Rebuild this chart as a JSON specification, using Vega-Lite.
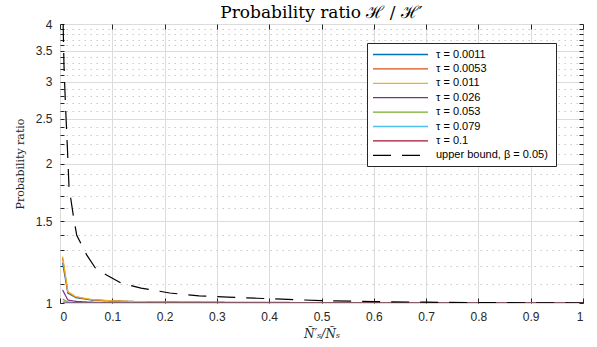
{
  "$schema": "https://vega.github.io/schema/vega-lite/v6.json",
  "width": 523,
  "height": 279,
  "autosize": {"type": "none"},
  "padding": {"left": 60, "top": 24, "right": 14, "bottom": 44},
  "background": "white",
  "config": {
    "view": {"stroke": "#262626", "strokeWidth": 1},
    "axis": {
      "labelFont": "Liberation Sans",
      "labelFontSize": 12,
      "labelColor": "#262626",
      "tickColor": "#262626",
      "domainColor": "#262626",
      "titleColor": "#262626"
    }
  },
  "title": {
    "text": "Probability ratio ℋ / ℋ′",
    "font": "DejaVu Serif",
    "fontSize": 17,
    "fontWeight": "normal",
    "color": "#000000",
    "anchor": "middle",
    "frame": "group",
    "offset": 4,
    "dy": 8
  },
  "data": {
    "values": [
      {"s": "τ = 0.0011", "x": 0.005, "y": 1.22},
      {"s": "τ = 0.0011", "x": 0.015, "y": 1.05},
      {"s": "τ = 0.0011", "x": 0.03, "y": 1.027},
      {"s": "τ = 0.0011", "x": 0.06, "y": 1.015},
      {"s": "τ = 0.0011", "x": 0.1, "y": 1.01},
      {"s": "τ = 0.0011", "x": 0.15, "y": 1.007},
      {"s": "τ = 0.0011", "x": 0.2, "y": 1.0055},
      {"s": "τ = 0.0011", "x": 0.3, "y": 1.004},
      {"s": "τ = 0.0011", "x": 0.4, "y": 1.003},
      {"s": "τ = 0.0011", "x": 0.5, "y": 1.002},
      {"s": "τ = 0.0011", "x": 0.6, "y": 1.0015},
      {"s": "τ = 0.0011", "x": 0.7, "y": 1.001},
      {"s": "τ = 0.0011", "x": 0.8, "y": 1.0008},
      {"s": "τ = 0.0011", "x": 0.9, "y": 1.0005},
      {"s": "τ = 0.0011", "x": 1.0, "y": 1.0003},
      {"s": "τ = 0.0053", "x": 0.005, "y": 1.25},
      {"s": "τ = 0.0053", "x": 0.015, "y": 1.055},
      {"s": "τ = 0.0053", "x": 0.03, "y": 1.03},
      {"s": "τ = 0.0053", "x": 0.06, "y": 1.016},
      {"s": "τ = 0.0053", "x": 0.1, "y": 1.01},
      {"s": "τ = 0.0053", "x": 0.15, "y": 1.006},
      {"s": "τ = 0.0053", "x": 0.2, "y": 1.004},
      {"s": "τ = 0.0053", "x": 0.3, "y": 1.002},
      {"s": "τ = 0.0053", "x": 0.4, "y": 1.0012},
      {"s": "τ = 0.0053", "x": 0.5, "y": 1.0008},
      {"s": "τ = 0.0053", "x": 0.6, "y": 1.0005},
      {"s": "τ = 0.0053", "x": 0.7, "y": 1.0003},
      {"s": "τ = 0.0053", "x": 0.8, "y": 1.0002},
      {"s": "τ = 0.0053", "x": 0.9, "y": 1.0001},
      {"s": "τ = 0.0053", "x": 1.0, "y": 1.0},
      {"s": "τ = 0.011", "x": 0.005, "y": 1.26},
      {"s": "τ = 0.011", "x": 0.015, "y": 1.058},
      {"s": "τ = 0.011", "x": 0.03, "y": 1.032},
      {"s": "τ = 0.011", "x": 0.06, "y": 1.018},
      {"s": "τ = 0.011", "x": 0.1, "y": 1.011},
      {"s": "τ = 0.011", "x": 0.15, "y": 1.007},
      {"s": "τ = 0.011", "x": 0.2, "y": 1.005},
      {"s": "τ = 0.011", "x": 0.3, "y": 1.003},
      {"s": "τ = 0.011", "x": 0.4, "y": 1.0015},
      {"s": "τ = 0.011", "x": 0.5, "y": 1.001},
      {"s": "τ = 0.011", "x": 0.6, "y": 1.0006},
      {"s": "τ = 0.011", "x": 0.7, "y": 1.0004},
      {"s": "τ = 0.011", "x": 0.8, "y": 1.0002},
      {"s": "τ = 0.011", "x": 0.9, "y": 1.0001},
      {"s": "τ = 0.011", "x": 1.0, "y": 1.0},
      {"s": "τ = 0.026", "x": 0.005, "y": 1.067},
      {"s": "τ = 0.026", "x": 0.015, "y": 1.015},
      {"s": "τ = 0.026", "x": 0.03, "y": 1.008},
      {"s": "τ = 0.026", "x": 0.06, "y": 1.004},
      {"s": "τ = 0.026", "x": 0.1, "y": 1.002},
      {"s": "τ = 0.026", "x": 0.15, "y": 1.001},
      {"s": "τ = 0.026", "x": 0.2, "y": 1.0006},
      {"s": "τ = 0.026", "x": 0.3, "y": 1.0003},
      {"s": "τ = 0.026", "x": 0.4, "y": 1.0002},
      {"s": "τ = 0.026", "x": 0.5, "y": 1.0001},
      {"s": "τ = 0.026", "x": 0.6, "y": 1.0},
      {"s": "τ = 0.026", "x": 0.7, "y": 1.0},
      {"s": "τ = 0.026", "x": 0.8, "y": 1.0},
      {"s": "τ = 0.026", "x": 0.9, "y": 1.0},
      {"s": "τ = 0.026", "x": 1.0, "y": 1.0},
      {"s": "τ = 0.053", "x": 0.005, "y": 1.02},
      {"s": "τ = 0.053", "x": 0.015, "y": 1.005},
      {"s": "τ = 0.053", "x": 0.03, "y": 1.002},
      {"s": "τ = 0.053", "x": 0.06, "y": 1.001},
      {"s": "τ = 0.053", "x": 0.1, "y": 1.0005},
      {"s": "τ = 0.053", "x": 0.15, "y": 1.0003},
      {"s": "τ = 0.053", "x": 0.2, "y": 1.0002},
      {"s": "τ = 0.053", "x": 0.3, "y": 1.0001},
      {"s": "τ = 0.053", "x": 0.4, "y": 1.0},
      {"s": "τ = 0.053", "x": 0.5, "y": 1.0},
      {"s": "τ = 0.053", "x": 0.6, "y": 1.0},
      {"s": "τ = 0.053", "x": 0.7, "y": 1.0},
      {"s": "τ = 0.053", "x": 0.8, "y": 1.0},
      {"s": "τ = 0.053", "x": 0.9, "y": 1.0},
      {"s": "τ = 0.053", "x": 1.0, "y": 1.0},
      {"s": "τ = 0.079", "x": 0.005, "y": 1.01},
      {"s": "τ = 0.079", "x": 0.015, "y": 1.002},
      {"s": "τ = 0.079", "x": 0.03, "y": 1.001},
      {"s": "τ = 0.079", "x": 0.06, "y": 1.0005},
      {"s": "τ = 0.079", "x": 0.1, "y": 1.0002},
      {"s": "τ = 0.079", "x": 0.15, "y": 1.0001},
      {"s": "τ = 0.079", "x": 0.2, "y": 1.0},
      {"s": "τ = 0.079", "x": 0.3, "y": 1.0},
      {"s": "τ = 0.079", "x": 0.4, "y": 1.0},
      {"s": "τ = 0.079", "x": 0.5, "y": 1.0},
      {"s": "τ = 0.079", "x": 0.6, "y": 1.0},
      {"s": "τ = 0.079", "x": 0.7, "y": 1.0},
      {"s": "τ = 0.079", "x": 0.8, "y": 1.0},
      {"s": "τ = 0.079", "x": 0.9, "y": 1.0},
      {"s": "τ = 0.079", "x": 1.0, "y": 1.0},
      {"s": "τ = 0.1", "x": 0.005, "y": 1.0},
      {"s": "τ = 0.1", "x": 0.1, "y": 1.0},
      {"s": "τ = 0.1", "x": 0.2, "y": 1.0},
      {"s": "τ = 0.1", "x": 0.3, "y": 1.0},
      {"s": "τ = 0.1", "x": 0.4, "y": 1.0},
      {"s": "τ = 0.1", "x": 0.5, "y": 1.0},
      {"s": "τ = 0.1", "x": 0.6, "y": 1.0},
      {"s": "τ = 0.1", "x": 0.7, "y": 1.0},
      {"s": "τ = 0.1", "x": 0.8, "y": 1.0},
      {"s": "τ = 0.1", "x": 0.9, "y": 1.0},
      {"s": "τ = 0.1", "x": 1.0, "y": 1.0},
      {"s": "upper bound,  β = 0.05)", "x": 0.006, "y": 4.0},
      {"s": "upper bound,  β = 0.05)", "x": 0.0076, "y": 3.26},
      {"s": "upper bound,  β = 0.05)", "x": 0.0105, "y": 2.67},
      {"s": "upper bound,  β = 0.05)", "x": 0.0143, "y": 2.14},
      {"s": "upper bound,  β = 0.05)", "x": 0.0172, "y": 1.78},
      {"s": "upper bound,  β = 0.05)", "x": 0.026, "y": 1.53},
      {"s": "upper bound,  β = 0.05)", "x": 0.032, "y": 1.40},
      {"s": "upper bound,  β = 0.05)", "x": 0.051, "y": 1.27},
      {"s": "upper bound,  β = 0.05)", "x": 0.068, "y": 1.188},
      {"s": "upper bound,  β = 0.05)", "x": 0.089, "y": 1.149},
      {"s": "upper bound,  β = 0.05)", "x": 0.118, "y": 1.102},
      {"s": "upper bound,  β = 0.05)", "x": 0.155, "y": 1.077},
      {"s": "upper bound,  β = 0.05)", "x": 0.21, "y": 1.051},
      {"s": "upper bound,  β = 0.05)", "x": 0.266, "y": 1.036},
      {"s": "upper bound,  β = 0.05)", "x": 0.321, "y": 1.030},
      {"s": "upper bound,  β = 0.05)", "x": 0.377, "y": 1.024},
      {"s": "upper bound,  β = 0.05)", "x": 0.436, "y": 1.018},
      {"s": "upper bound,  β = 0.05)", "x": 0.5, "y": 1.012},
      {"s": "upper bound,  β = 0.05)", "x": 0.6, "y": 1.007},
      {"s": "upper bound,  β = 0.05)", "x": 0.7, "y": 1.004},
      {"s": "upper bound,  β = 0.05)", "x": 0.8, "y": 1.002},
      {"s": "upper bound,  β = 0.05)", "x": 0.9, "y": 1.001},
      {"s": "upper bound,  β = 0.05)", "x": 1.0, "y": 1.0}
    ]
  },
  "layer": [
    {
      "mark": {"type": "line", "strokeWidth": 1.2, "clip": true},
      "encoding": {
        "x": {
          "field": "x",
          "type": "quantitative",
          "scale": {"domain": [0, 1], "nice": false, "zero": false},
          "axis": {
            "values": [0, 0.1, 0.2, 0.3, 0.4, 0.5, 0.6, 0.7, 0.8, 0.9, 1],
            "format": "~g",
            "title": "Ñ′ₛ/Ñₛ",
            "titleFont": "DejaVu Serif",
            "titleFontStyle": "italic",
            "titleFontWeight": "normal",
            "titleFontSize": 12,
            "titlePadding": 6,
            "domain": false,
            "tickSize": -5,
            "labelPadding": 13,
            "grid": true,
            "gridColor": "#dcdcdc",
            "gridWidth": 1
          }
        },
        "y": {
          "field": "y",
          "type": "quantitative",
          "scale": {"type": "log", "domain": [1, 4], "nice": false},
          "axis": {
            "values": [1, 1.1, 1.2, 1.3, 1.4, 1.5, 1.6, 1.7, 1.8, 1.9, 2, 2.1, 2.2, 2.3, 2.4, 2.5, 2.6, 2.7, 2.8, 2.9, 3, 3.1, 3.2, 3.3, 3.4, 3.5, 3.6, 3.7, 3.8, 3.9, 4],
            "labelExpr": "indexof([1, 1.5, 2, 2.5, 3, 3.5, 4], datum.value) >= 0 ? datum.label : ''",
            "format": "~g",
            "title": "Probability ratio",
            "titleFont": "DejaVu Serif",
            "titleFontWeight": "normal",
            "titleFontSize": 11,
            "titlePadding": 10,
            "domain": false,
            "tickSize": -4,
            "labelPadding": 12,
            "labelBound": false,
            "labelOverlap": false,
            "grid": true,
            "gridColor": {"condition": {"test": "indexof([1, 1.5, 2, 2.5, 3, 3.5, 4], datum.value) >= 0", "value": "#dcdcdc"}, "value": "#c8c8c8"},
            "gridDash": {"condition": {"test": "indexof([1, 1.5, 2, 2.5, 3, 3.5, 4], datum.value) >= 0", "value": []}, "value": [1.5, 4.5]}
          }
        },
        "color": {
          "field": "s",
          "type": "nominal",
          "scale": {
            "domain": ["τ = 0.0011", "τ = 0.0053", "τ = 0.011", "τ = 0.026", "τ = 0.053", "τ = 0.079", "τ = 0.1", "upper bound,  β = 0.05)"],
            "range": ["#0072BD", "#D95319", "#EDB120", "#7E2F8E", "#77AC30", "#4DBEEE", "#A2142F", "#000000"]
          },
          "legend": {
            "title": null,
            "orient": "none",
            "legendX": 307,
            "legendY": 19,
            "symbolType": "M-5,0H5",
            "symbolSize": 121,
            "symbolOffset": 22,
            "symbolStrokeWidth": 1.3,
            "labelFont": "Liberation Sans",
            "labelFontSize": 11,
            "labelColor": "#000000",
            "labelOffset": 29,
            "padding": 5,
            "rowPadding": 2.4,
            "strokeColor": "#262626",
            "fillColor": "white",
            "cornerRadius": 0
          }
        },
        "strokeDash": {
          "field": "s",
          "type": "nominal",
          "scale": {
            "domain": ["τ = 0.0011", "τ = 0.0053", "τ = 0.011", "τ = 0.026", "τ = 0.053", "τ = 0.079", "τ = 0.1", "upper bound,  β = 0.05)"],
            "range": [[1, 0], [1, 0], [1, 0], [1, 0], [1, 0], [1, 0], [1, 0], [18, 11]]
          },
          "legend": {
            "title": null,
            "orient": "none",
            "legendX": 307,
            "legendY": 19
          }
        }
      }
    },
    {
      "mark": {"type": "point", "opacity": 0},
      "encoding": {
        "x": {
          "field": "x",
          "type": "quantitative",
          "axis": {
            "orient": "top",
            "values": [0, 0.1, 0.2, 0.3, 0.4, 0.5, 0.6, 0.7, 0.8, 0.9, 1],
            "labels": false,
            "title": null,
            "domain": false,
            "tickSize": -5,
            "grid": false
          }
        },
        "y": {
          "field": "y",
          "type": "quantitative",
          "axis": {
            "orient": "right",
            "values": [1, 1.1, 1.2, 1.3, 1.4, 1.5, 1.6, 1.7, 1.8, 1.9, 2, 2.1, 2.2, 2.3, 2.4, 2.5, 2.6, 2.7, 2.8, 2.9, 3, 3.1, 3.2, 3.3, 3.4, 3.5, 3.6, 3.7, 3.8, 3.9, 4],
            "labels": false,
            "title": null,
            "domain": false,
            "tickSize": -4,
            "grid": false
          }
        }
      }
    }
  ],
  "resolve": {"axis": {"x": "independent", "y": "independent"}}
}
